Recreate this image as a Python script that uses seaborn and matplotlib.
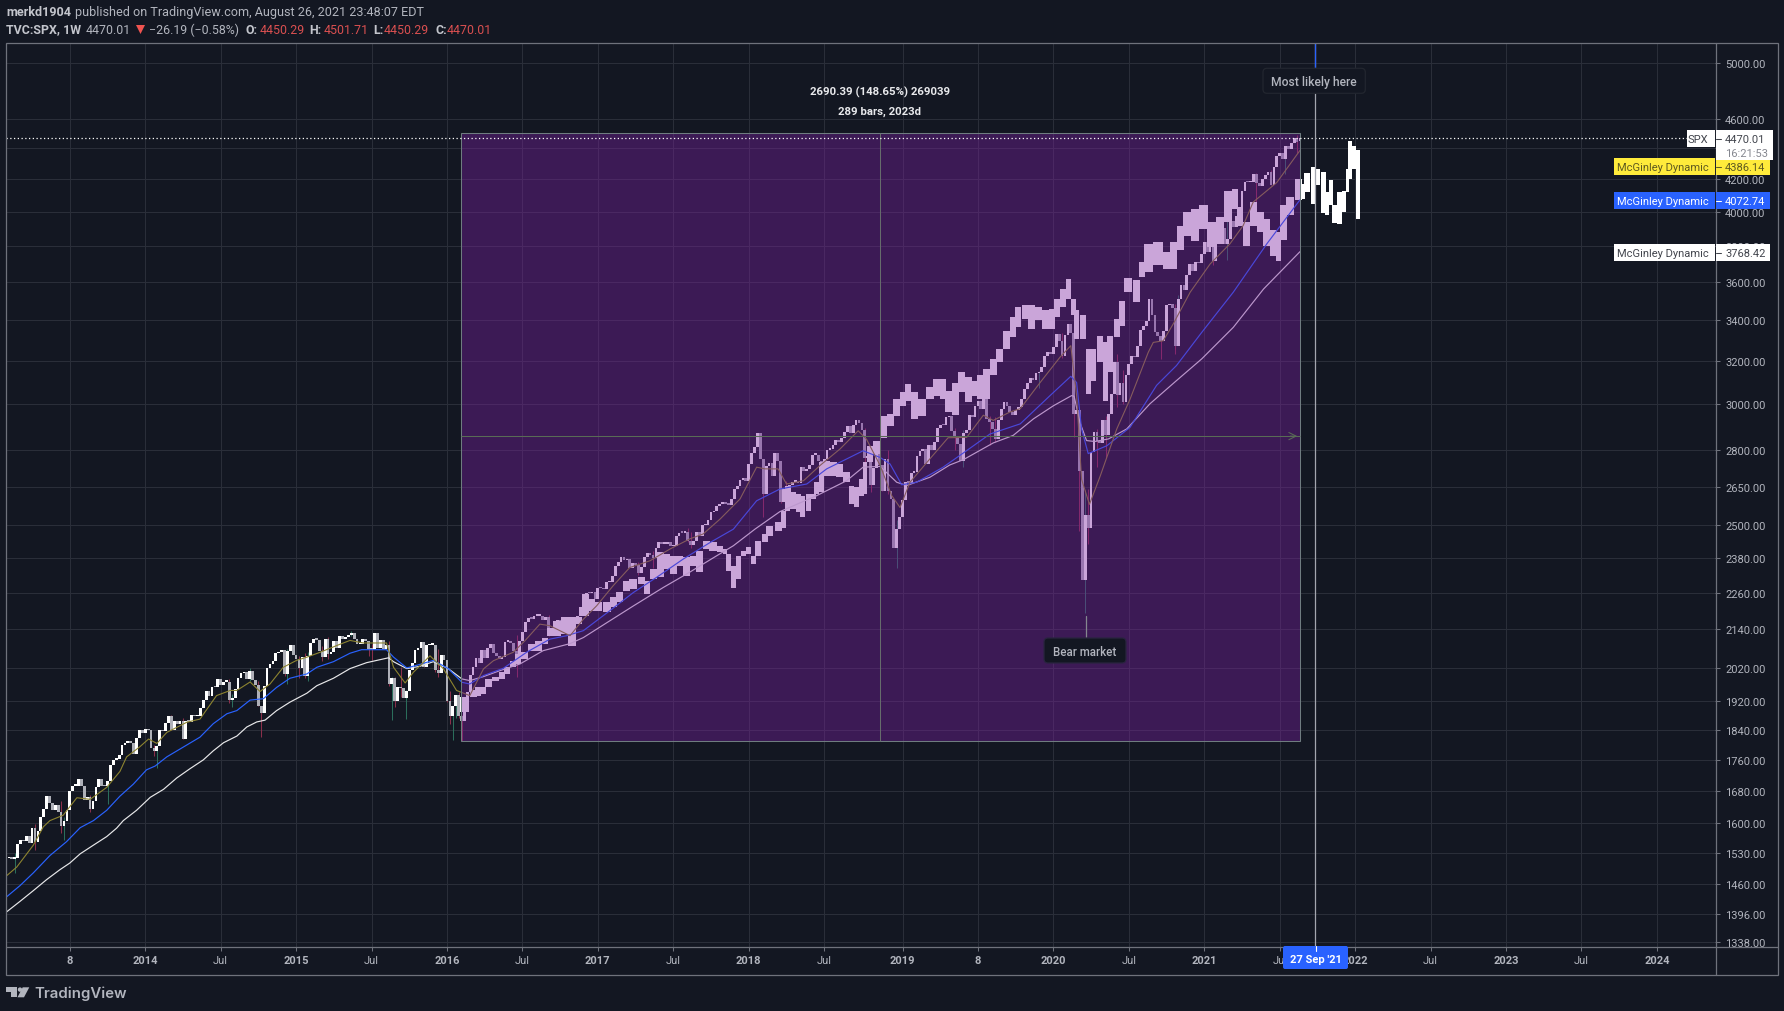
import numpy as np
import pandas as pd
import matplotlib
matplotlib.use('Agg')
import matplotlib.pyplot as plt
import matplotlib.dates as mdates
from matplotlib.patches import Rectangle, FancyBboxPatch, Polygon, Circle
import seaborn as sns

# weekly closes of the index, year by year
close_2013 = [1518,1520,1516,1518,1551,1561,1557,1569,1553,1588,1555,1582,1614,1634,1667,1650,1631,1643,1626,1593,
              1606,1632,1680,1692,1692,1710,1691,1656,1664,1633,1655,1688,1710,1692,1691,1703,1745,1760,1762,1771,
              1798,1804,1806,1805,1775,1818,1841]
close_2014 = [1831,1842,1839,1790,1783,1797,1839,1836,1859,1878,1841,1866,1857,1865,1816,1864,1863,1881,1878,1878,
              1900,1924,1949,1936,1962,1961,1985,1968,1978,1978,1925,1931,1955,1988,2003,2007,1985,2011,1983,1968,
              1906,1887,1965,2018,2032,2040,2064,2068,2075,2002,2071,2089]
close_2015 = [2058,2045,2019,2051,1995,2055,2097,2110,2105,2071,2053,2108,2061,2067,2102,2081,2117,2108,2116,2122,
              2126,2107,2092,2094,2110,2101,2077,2076,2126,2079,2104,2078,2091,1971,1989,1921,1961,1958,1931,1951,
              2014,2033,2075,2079,2099,2023,2089,2090,2091,2012,2005,2060,2043]
close_2016 = [1922,1880,1906,1940,1880,1865,1917,1948,1999,2022,2050,2035,2073,2048,2081,2092,2065,2057,2047,2052,
              2099,2099,2096,2071,2037,2103,2130,2162,2175,2174,2183,2184,2184,2169,2180,2128,2139,2165,2168,2154,
              2133,2141,2126,2085,2164,2182,2213,2192,2260,2258,2264,2239]
close_2017 = [2277,2275,2271,2295,2297,2316,2351,2367,2383,2373,2378,2344,2363,2356,2329,2349,2384,2399,2391,2382,
              2416,2439,2432,2433,2438,2423,2425,2459,2473,2472,2477,2441,2426,2443,2476,2461,2500,2502,2519,2549,
              2553,2575,2581,2588,2582,2578,2602,2642,2652,2675,2683,2674]
close_2018 = [2743,2786,2810,2873,2762,2620,2732,2747,2691,2786,2752,2588,2641,2604,2656,2670,2670,2663,2728,2713,
              2721,2735,2779,2780,2755,2718,2760,2801,2802,2819,2840,2833,2850,2875,2902,2872,2905,2930,2914,2885,
              2767,2768,2658,2723,2781,2736,2632,2760,2633,2599,2416,2485]
close_2019 = [2531,2596,2670,2664,2706,2707,2775,2793,2803,2743,2822,2800,2834,2892,2907,2905,2939,2945,2881,2859,
              2826,2752,2873,2886,2950,2941,2990,3013,2976,3025,2932,2918,2889,2847,2926,2978,3007,2992,2961,2952,
              2970,2986,3022,3066,3093,3120,3110,3140,3145,3168,3221,3240]
close_2020 = [3234,3265,3329,3295,3225,3327,3380,3337,2954,2972,2711,2305,2541,2489,2790,2875,2837,2830,2930,2864,
              2955,3044,3194,3041,3097,3009,3130,3185,3225,3216,3271,3351,3373,3397,3508,3427,3341,3319,3298,3348,
              3477,3484,3465,3270,3509,3585,3558,3638,3699,3663,3709,3703,3756]
close_2021 = [3825,3768,3841,3714,3887,3935,3906,3811,3842,3943,3913,3975,4020,4129,4185,4180,4181,4233,4174,4156,
              4204,4230,4247,4166,4281,4352,4370,4327,4412,4395,4437,4468,4442,4470.01]

# the wicks that stand out of the bodies: week, low, high
wick_weeks = ['2013-02-25','2013-04-15','2013-06-17','2013-06-24','2013-08-26','2013-10-07','2014-01-27','2014-02-03',
              '2014-03-10','2014-04-07','2014-07-28','2014-08-04','2014-09-15','2014-10-06','2014-10-13','2014-12-08',
              '2014-12-15','2015-01-12','2015-01-26','2015-02-02','2015-03-09','2015-03-23','2015-05-18','2015-06-29',
              '2015-07-06','2015-08-17','2015-08-24','2015-08-31','2015-09-14','2015-09-28','2015-11-09','2015-12-07',
              '2015-12-14','2016-01-04','2016-01-11','2016-01-18','2016-01-25','2016-02-01','2016-02-08','2016-06-20',
              '2016-09-05','2017-04-10','2017-05-15','2017-08-07','2017-08-14','2018-02-05','2018-03-19','2018-04-02',
              '2018-10-08','2018-10-22','2018-11-19','2018-12-03','2018-12-24','2019-05-13','2019-06-03','2019-08-05',
              '2019-08-19','2019-12-02','2020-01-27','2020-02-24','2020-03-09','2020-03-23','2020-03-30','2020-04-20',
              '2020-05-11','2020-06-08','2020-06-22','2020-09-21','2020-10-26','2020-11-02','2021-01-25','2021-03-01',
              '2021-05-10','2021-06-14','2021-07-19','2021-08-16','2021-08-23']
wick_low = [1485,1536,1577,1560,1627,1646,1770,1738,1839,1814,1916,1904,1979,1906,1821,1996,1972,1988,1989,1981,2039,
            2045,2117,2056,2044,1965,1867,1903,1934,1871,2022,2006,1993,1918,1857,1812,1872,1872,1810,1992,2119,2322,
            2344,2437,2417,2532,2585,2553,2710,2628,2631,2621,2346,2801,2728,2822,2834,3070,3214,2855,2478,2191,2431,
            2727,2766,2984,2999,3209,3233,3279,3694,3723,4056,4164,4233,4367,4450]
wick_high = [1530,1597,1654,1615,1670,1704,1798,1800,1882,1872,1985,1943,2019,1980,1906,2075,2077,2056,2066,2069,2086,
             2114,2134,2100,2093,2103,1993,1993,2021,1953,2087,2090,2077,2038,1950,1908,1940,1947,1881,2120,2187,2365,
             2406,2490,2475,2763,2741,2672,2894,2778,2691,2800,2520,2892,2885,2945,2940,3150,3337,3259,2882,2637,2641,
             2889,2945,3233,3155,3306,3486,3529,3870,3960,4238,4262,4415,4489,4501]

# the copied bar pattern that runs through the box and past it (days after 8 Feb 2016)
pattern_days = [8,29,40,53,65,81,97,109,125,137,153,169,185,201,213,230,250,266,282,300,314,330,350,366,382,398,414,435,
                447,463,479,495,511,527,543,559,575,591,607,624,636,644,656,668,680,692,704,716,732,744,764,776,786,800,
                813,823,837,849,857,869,881,897,913,929,941,953,965,973,985,1002,1018,1034,1050,1066,1078,1094,1110,1130,
                1146,1162,1175,1191,1207,1223,1239,1251,1267,1283,1299,1315,1331,1343,1360,1376,1392,1408,1424,1436,1452,
                1464,1476,1484,1500,1512,1524,1541,1553,1565,1581,1593,1609,1629,1641,1657,1681,1701,1717,1734,1750,1770,
                1790,1810,1830,1850,1866,1878,1894,1910,1927,1943,1959,1971,1983,1999,2019,2029,2041,2056,2066,2079,2089,
                2097,2106,2119,2129,2138,2144,2153,2163]
pattern_high = [1932,1952,1961,1961,1986,1991,2006,2021,2041,2062,2067,2092,2103,2113,2145,2167,2178,2178,2178,2256,2239,
                2228,2228,2245,2261,2301,2307,2313,2301,2341,2401,2395,2389,2389,2383,2389,2407,2443,2437,2425,2413,2395,
                2353,2389,2407,2419,2389,2443,2468,2499,2511,2555,2654,2627,2621,2614,2621,2621,2667,2748,2755,2748,2741,
                2707,2654,2647,2680,2748,2817,2838,2946,2953,3021,3052,3090,3052,3021,3075,3113,3113,3060,3095,3145,3122,
                3106,3130,3161,3209,3257,3348,3416,3468,3477,3477,3468,3451,3459,3511,3564,3618,3511,3451,3425,3257,3257,
                3322,3289,3322,3408,3502,3623,3614,3709,3813,3822,3766,3822,3919,3999,4019,4039,3938,3969,4130,4140,4029,
                3938,4059,3999,3959,3890,3880,4039,4089,4203,4172,4241,4277,4266,4245,4120,4193,4039,4120,4124,4266,4450,
                4417,4388]
pattern_low = [1889,1932,1937,1942,1961,1981,1986,2001,2021,2031,2046,2072,2072,2092,2119,2119,2124,2087,2156,2183,2200,
               2200,2194,2211,2228,2267,2273,2290,2256,2307,2313,2341,2324,2353,2319,2353,2330,2413,2407,2401,2395,2336,
               2275,2307,2389,2395,2361,2389,2437,2462,2480,2492,2555,2562,2549,2530,2555,2601,2621,2627,2694,2694,2687,
               2667,2582,2569,2614,2621,2748,2782,2852,2902,2946,2991,3014,2934,2946,3021,3036,3021,2963,2949,3053,3007,
               3037,3022,3022,3130,3193,3257,3315,3365,3408,3356,3399,3356,3356,3416,3468,3511,3425,3306,3306,3045,3106,
               3193,3014,3145,3315,3373,3546,3496,3627,3655,3691,3673,3673,3776,3860,3831,3899,3794,3813,3938,4019,3919,
               3799,3919,3880,3803,3746,3718,3832,3979,4069,4080,4120,4049,4162,3995,3983,4039,3935,3925,3999,4120,4203,
               4266,3959]

# the three McGinley Dynamic lines, days after 8 Feb 2016 and level
white_days = [-1097,-1065,-1033,-1001,-969,-945,-920,-888,-856,-832,-816,-784,-751,-719,-687,-655,-623,-599,-574,-542,
              -518,-494,-474,-446,-414,-373,-349,-309,-269,-229,-176,-164,-132,-100,-68,-32,1,20,53,93,141,197,262,294,
              358,415,487,551,616,656,708,768,857,929,969,1010,1050,1074,1130,1178,1211,1283,1331,1380,1428,1472,1478,
              1492,1508,1528,1561,1605,1661,1725,1786,1862,1935,2023]
white_vals = [1401,1423,1446,1470,1492,1507,1528,1548,1568,1588,1606,1631,1663,1683,1712,1736,1759,1783,1805,1823,1848,
              1862,1867,1894,1918,1944,1966,1988,2017,2035,2050,2038,2017,2024,2038,2017,1986,1981,1993,2011,2031,2072,
              2094,2113,2167,2216,2278,2331,2389,2425,2486,2552,2614,2673,2728,2731,2667,2654,2687,2737,2759,2829,2861,
              2933,2991,3037,3034,2918,2839,2835,2846,2889,3000,3106,3209,3364,3563,3768.42]
blue_days = [-1097,-1065,-1033,-993,-953,-920,-888,-856,-824,-792,-760,-739,-711,-679,-631,-599,-566,-542,-510,-478,
             -446,-414,-373,-349,-309,-269,-241,-181,-164,-132,-108,-68,-32,1,20,53,101,157,213,254,294,358,415,471,
             535,600,656,712,768,833,881,969,1010,1034,1062,1098,1162,1211,1275,1348,1420,1470,1484,1496,1512,1557,
             1613,1677,1725,1786,1862,1943,2023]
blue_vals = [1433,1457,1485,1524,1556,1589,1606,1631,1666,1696,1733,1743,1767,1788,1820,1857,1885,1894,1924,1928,1961,
             1988,2001,2021,2038,2064,2075,2075,2052,2019,2027,2042,2017,1976,1971,1996,2018,2067,2108,2119,2135,2200,
             2261,2313,2377,2437,2486,2594,2640,2660,2721,2796,2768,2741,2657,2667,2728,2787,2867,2911,3037,3126,3097,
             2889,2784,2817,2896,3084,3177,3339,3546,3813,4072.74]
olive_days = [-1097,-1073,-1033,-1009,-993,-961,-928,-896,-856,-824,-808,-776,-755,-735,-711,-663,-631,-591,-558,-542,
              -510,-486,-462,-430,-398,-373,-341,-301,-269,-237,-181,-164,-136,-116,-76,-44,-12,20,53,77,125,153,189,
              213,262,294,326,366,406,455,503,551,583,624,672,712,732,764,784,825,865,913,957,977,1010,1038,1058,1082,
              1130,1174,1219,1259,1283,1323,1348,1396,1444,1470,1484,1496,1515,1541,1581,1613,1657,1669,1693,1717,1758,
              1806,1854,1886,1910,1967,2023]
olive_vals = [1479,1498,1548,1591,1606,1619,1662,1658,1688,1729,1767,1794,1815,1803,1833,1861,1870,1937,1952,1952,1977,
              1949,1971,2021,2042,2052,2067,2088,2104,2096,2096,2021,1974,2006,2056,2017,1952,1937,2016,2041,2067,2103,
              2156,2151,2119,2172,2216,2284,2347,2371,2413,2450,2468,2524,2601,2728,2721,2721,2660,2673,2735,2803,2881,
              2845,2735,2614,2568,2667,2762,2851,2853,2949,2926,2963,2978,3097,3217,3273,3037,2679,2580,2692,2889,3021,
              3241,3289,3297,3381,3546,3699,3813,3919,4059,4180,4386.14]

price_ticks = [5000,4600,4400,4200,4000,3800,3600,3400,3200,3000,2800,2650,2500,2380,2260,2140,2020,1920,1840,1760,1680,
               1600,1530,1460,1396,1338]
time_ticks = ['2013-07-08','2014-01-06','2014-07-07','2015-01-05','2015-07-06','2016-01-04','2016-07-04','2017-01-02',
              '2017-07-03','2018-01-01','2018-07-02','2019-01-07','2019-07-08','2020-01-06','2020-07-06','2021-01-04',
              '2021-07-05','2022-01-03','2022-07-04','2023-01-02','2023-07-03','2024-01-01']
time_labels = ['8','2014','Jul','2015','Jul','2016','Jul','2017','Jul','2018','Jul','2019','8','2020','Jul','2021','Jul',
               '2022','Jul','2023','Jul','2024']

BG = '#131722'
GRID = '#2a2e39'
FRAME = '#6f727c'
TEXT = '#b2b5be'
RED = '#d94f50'

W, H = 1784, 1012
sns.set_theme(style='darkgrid', rc={'axes.facecolor': BG, 'figure.facecolor': BG, 'grid.color': GRID,
                                    'grid.linewidth': 0.75, 'axes.edgecolor': FRAME})
plt.rcParams['font.family'] = ['Roboto', 'DejaVu Sans']

fig = plt.figure(figsize=(W / 100, H / 100), dpi=100)
left, right, top, bottom = 6.0, 1715.5, 43.7, 947.7
ax = fig.add_axes([left / W, 1 - bottom / H, (right - left) / W, (bottom - top) / H], zorder=1)
ax.set_yscale('log')

start = pd.Timestamp('2016-02-08')
closes = np.array(close_2013 + close_2014 + close_2015 + close_2016 + close_2017 + close_2018 + close_2019
                  + close_2020 + close_2021, dtype=float)
weeks = pd.date_range(end='2021-08-23', periods=len(closes), freq='7D')
opens = np.r_[1512, closes[:-1]]
opens[-1] = 4450.29
up = closes >= opens

# wicks, red or green after the bar they belong to
wk = pd.to_datetime(wick_weeks)
wick_up = [up[weeks.get_loc(d)] for d in wk]
ax.vlines(wk, wick_low, wick_high, colors=['#2b6e5b' if u else '#8a2f4b' for u in wick_up], lw=0.75, zorder=2)

# candle bodies
body_lo = np.minimum(opens, closes)
body_hi = np.maximum(opens, closes)
body_hi = np.maximum(body_hi, body_lo * 1.0025)
ax.bar(weeks, body_hi - body_lo, bottom=body_lo, width=6.6, color=['white' if u else '#aeb0b8' for u in up],
       linewidth=0, zorder=2.2)

# copied pattern bars
p_days = np.array(pattern_days, dtype=float)
p_x = start + pd.to_timedelta(p_days, unit='D')
p_hi = np.array(pattern_high, dtype=float)
p_lo = np.array(pattern_low, dtype=float)
ax.bar(p_x, p_hi - p_lo, bottom=p_lo, width=np.gradient(p_days) + 1, color='white', linewidth=0, zorder=2.5)

# the moving lines
for days, vals, col, lw in [(white_days, white_vals, '#e8e8ea', 0.85), (blue_days, blue_vals, '#2962ff', 0.85),
                            (olive_days, olive_vals, '#8d8430', 0.8)]:
    line = pd.DataFrame({'date': start + pd.to_timedelta(days, unit='D'), 'level': vals})
    sns.lineplot(data=line, x='date', y='level', color=col, lw=lw, estimator=None, sort=False, legend=False,
                 ax=ax, zorder=3)

day_px = 2.9014 / 7
x0 = mdates.date2num(start)
ax.set_xlim(x0 - (461.5 - left) / day_px, x0 + (right - 461.5) / day_px)
ax.set_ylim(1329.4, 5154.5)

ax.set_yticks(price_ticks)
ax.set_yticklabels(['%.2f' % t for t in price_ticks])
ax.minorticks_off()
ax.yaxis.tick_right()
ax.set_xticks(mdates.date2num(pd.to_datetime(time_ticks)))
ax.set_xticklabels(time_labels)
ax.tick_params(axis='y', length=3.4, width=0.75, color=FRAME, labelcolor=TEXT, labelsize=8, pad=3.5, right=True)
ax.tick_params(axis='x', length=3.2, width=0.75, color=FRAME, labelcolor=TEXT, labelsize=8, pad=2.5, bottom=True)
for lab in ax.get_xticklabels():
    if lab.get_text() != 'Jul':
        lab.set_fontweight('bold')
ax.set_xlabel('')
ax.set_ylabel('')
ax.grid(True, color=GRID, lw=0.75)
ax.set_axisbelow(True)
for sp in ax.spines.values():
    sp.set_visible(False)

# date and price range box
box_x0 = x0 - 2
box_x1 = mdates.date2num(pd.Timestamp('2021-08-23'))
box_lo, box_hi = 1810.1, 4501.71
ax.add_patch(Rectangle((box_x0, box_lo), box_x1 - box_x0, box_hi - box_lo, facecolor=(0.482, 0.122, 0.635, 0.40),
                       edgecolor='#6f7c80', lw=0.75, zorder=4))
box_mid_x = (box_x0 + box_x1) / 2
box_mid_y = 2858
ax.vlines(box_mid_x, box_lo, box_hi, color='#666c6c', lw=0.75, zorder=4.5)
ax.hlines(box_mid_y, box_x0, box_x1, color='#596b55', lw=0.75, zorder=4.5)
ax.annotate('', xy=(box_x1, box_mid_y), xytext=(box_x1 - 30, box_mid_y),
            arrowprops=dict(arrowstyle='->', color='#596b55', lw=0.75, mutation_scale=13), zorder=4.5)

# last price line and the crosshair
ax.axhline(4470.01, color='white', lw=0.9, ls=(0, (1, 2)), zorder=5)
cross = mdates.date2num(pd.Timestamp('2021-09-29'))
ax.axvline(cross, color='#a3a6af', lw=0.9, zorder=5)
ax.axvline(cross, ymin=(bottom - 69) / (bottom - top), ymax=1, color='#2962ff', lw=0.9, zorder=5.1)

# everything in the price and time scales, in pixels of the picture
ov = fig.add_axes([0, 0, 1, 1], zorder=5)
ov.set_xlim(0, W)
ov.set_ylim(H, 0)
ov.axis('off')
ov.patch.set_visible(False)

ov.add_patch(Rectangle((left, top), 1778 - left, 975.7 - top, fill=False, edgecolor=FRAME, lw=0.9))
ov.plot([right, right], [top, 975.7], color=FRAME, lw=0.9)
ov.plot([left, 1778], [bottom, bottom], color=FRAME, lw=0.9)


def flat_box(x0, x1, y0, y1, color):
    ov.add_patch(Rectangle((x0, y0), x1 - x0, y1 - y0, facecolor=color, edgecolor='none', zorder=6))


def label_row(y0, y1, x0, x1, color, name, price, fg):
    flat_box(x0, 1714.5, y0, y1, color)
    flat_box(1716.3, x1, y0, y1, color)
    ym = (y0 + y1) / 2 + 0.7
    ov.text(1714.5 - 6, ym, name, color=fg, fontsize=8, ha='right', va='center', zorder=7)
    ov.plot([1716.3, 1721], [ym, ym], color=fg, lw=0.75, zorder=7)
    ov.text(1725, ym, price, color=fg, fontsize=8, ha='left', va='center', zorder=7)


label_row(245, 261.7, 1614.3, 1769.5, 'white', 'McGinley Dynamic', '3768.42', '#42454d')
label_row(193, 210, 1614.3, 1769.5, '#2962ff', 'McGinley Dynamic', '4072.74', 'white')
label_row(159, 176, 1614.3, 1769.5, '#ffeb3b', 'McGinley Dynamic', '4386.14', '#5f5a20')
flat_box(1687, 1714.5, 131, 148, 'white')
flat_box(1716.3, 1773, 131, 160.5, 'white')
ov.text(1708, 140.2, 'SPX', color='#42454d', fontsize=8, ha='right', va='center', zorder=7)
ov.plot([1716.3, 1721], [140.2, 140.2], color='#42454d', lw=0.75, zorder=7)
ov.text(1725, 140.2, '4470.01', color='#42454d', fontsize=8, ha='left', va='center', zorder=7)
ov.text(1725, 153.5, '16:21:53', color='#85878f', fontsize=8, ha='left', va='center', zorder=7)

ov.add_patch(FancyBboxPatch((1283 + 2, 947 + 2), 65 - 4, 23 - 4, boxstyle='round,pad=2', facecolor='#2962ff',
                            edgecolor='none', zorder=6))
ov.text(1315.5, 960, "27 Sep '21", color='white', fontsize=8, fontweight='bold', ha='center', va='center', zorder=7)
ov.plot([1315.5, 1315.5], [947, 952], color='white', lw=0.8, zorder=7)


def note(x0, x1, y0, y1, text, face, edge, size):
    ov.add_patch(FancyBboxPatch((x0 + 4, y0 + 4), x1 - x0 - 8, y1 - y0 - 8, boxstyle='round,pad=4', facecolor=face,
                                edgecolor=edge, lw=0.9, zorder=6))
    ov.text((x0 + x1) / 2, (y0 + y1) / 2 + 0.5, text, color=TEXT, fontsize=size, fontweight='medium', ha='center',
            va='center', zorder=7)


note(1263, 1365.3, 69.3, 94.3, 'Most likely here', BG, '#22262f', 8.7)
ov.plot([1085.5, 1085.5], [617, 639], color='#85878f', lw=0.9, zorder=5.5)
note(1044, 1126, 639, 664, 'Bear market', BG, '#2a2440', 8.3)

ov.text(880, 92.2, '2690.39 (148.65%) 269039', color='#e8e9ec', fontsize=8.2, fontweight='bold', ha='center',
        va='center')
ov.text(880, 111.7, '289 bars, 2023d', color='#e8e9ec', fontsize=8.2, fontweight='bold', ha='center', va='center')

# header lines
ov.text(6.5, 12.7, 'merkd1904', color='#c3c5cc', fontsize=9.1, fontweight='bold', ha='left', va='center')
ov.text(75, 12.7, 'published on TradingView.com, August 26, 2021 23:48:07 EDT', color=TEXT, fontsize=9.1, ha='left',
        va='center')
ov.text(6.5, 30, 'TVC:SPX, 1W', color='#c3c5cc', fontsize=8.9, fontweight='bold', ha='left', va='center')
ov.text(86, 30, '4470.01', color=TEXT, fontsize=8.9, ha='left', va='center')
ov.add_patch(Polygon([[136, 26], [145, 26], [140.5, 35]], facecolor='#ef5350', edgecolor='none'))
ov.text(149, 30, '\u221226.19 (\u22120.58%)', color=TEXT, fontsize=8.9, ha='left', va='center')
for x_key, key, x_val, val in [(245, 'O:', 260, '4450.29'), (309.6, 'H:', 323.8, '4501.71'),
                               (373.6, 'L:', 384, '4450.29'), (435, 'C:', 446.8, '4470.01')]:
    ov.text(x_key, 30, key, color='#c3c5cc', fontsize=8.9, fontweight='bold', ha='left', va='center')
    ov.text(x_val, 30, val, color=RED, fontsize=8.9, ha='left', va='center')

# logo at the bottom
logo = '#b2b5be'
ov.add_patch(Polygon([[6, 988.3], [16.7, 988.3], [16.7, 998.3], [10.7, 998.3], [10.7, 992.5], [6, 992.5]],
                     facecolor=logo, edgecolor='none'))
ov.add_patch(Circle((20, 990.6), 2.2, facecolor=logo, edgecolor='none'))
ov.add_patch(Polygon([[22.7, 988.3], [29.3, 988.3], [24, 998.3], [17.5, 998.3]], facecolor=logo, edgecolor='none'))
ov.text(34, 993.5, 'TradingView', color=logo, fontsize=10.8, fontfamily='Inter', fontweight='semibold', ha='left',
        va='center')

fig.savefig('out.png', dpi=100, facecolor=BG)
